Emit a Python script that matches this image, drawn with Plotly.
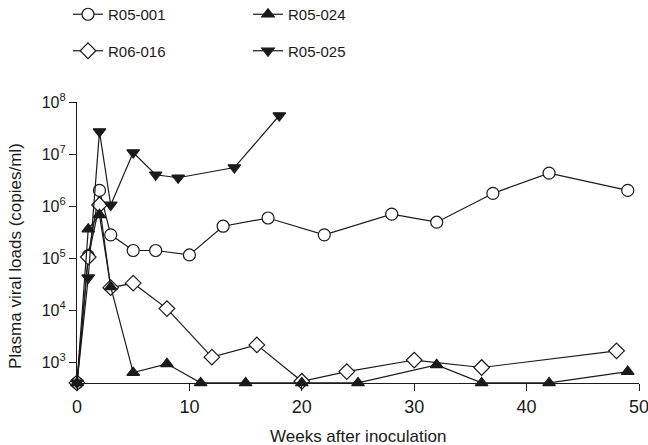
import plotly.graph_objects as go

# Data (weeks after inoculation, plasma viral loads copies/ml)
r05_001_weeks = [0, 1, 2, 3, 5, 7, 10, 13, 17, 22, 28, 32, 37, 42, 49]
r05_001_loads = [400, 1.1e5, 2.0e6, 2.8e5, 1.4e5, 1.4e5, 1.15e5, 4.1e5, 5.9e5, 2.8e5, 7.0e5, 4.9e5, 1.75e6, 4.3e6, 2.0e6]

r06_016_weeks = [0, 1, 2, 3, 5, 8, 12, 16, 20, 24, 30, 36, 48]
r06_016_loads = [400, 1.05e5, 1.05e6, 2.7e4, 3.3e4, 1.07e4, 1.25e3, 2.15e3, 430, 660, 1.1e3, 790, 1.65e3]

r05_024_weeks = [0, 1, 2, 3, 5, 8, 11, 15, 20, 25, 32, 36, 42, 49]
r05_024_loads = [400, 3.6e5, 6.8e5, 2.8e4, 630, 930, 400, 400, 400, 400, 890, 400, 400, 660]

r05_025_weeks = [0, 1, 2, 3, 5, 7, 9, 14, 18]
r05_025_loads = [400, 4.2e4, 2.7e7, 1.05e6, 1.07e7, 4.0e6, 3.5e6, 5.5e6, 5.5e7]

y_tick_vals = [1e3, 1e4, 1e5, 1e6, 1e7, 1e8]
y_tick_text = ["10<sup>3</sup>", "10<sup>4</sup>", "10<sup>5</sup>", "10<sup>6</sup>", "10<sup>7</sup>", "10<sup>8</sup>"]
x_tick_vals = [0, 10, 20, 30, 40, 50]

x_title = "Weeks after inoculation"
y_title = "Plasma viral loads (copies/ml)"

INK = "#1a1a1a"
FONT = "Liberation Sans, Arial, sans-serif"

W, H = 648, 445

fig = go.Figure()

def add(name, x, y, symbol, filled, legend, group):
    fig.add_trace(go.Scatter(
        x=x, y=y, name=name, mode="lines+markers",
        line=dict(color=INK, width=1.2),
        marker=dict(symbol=symbol, size=12 if "triangle" not in symbol else 11,
                    color=INK if filled else "white",
                    line=dict(color=INK, width=1.2)),
        cliponaxis=False, legend=legend, legendgroup=group,
    ))

add("R05-001", r05_001_weeks, r05_001_loads, "circle", False, "legend", "a")
add("R06-016", r06_016_weeks, r06_016_loads, "diamond", False, "legend", "b")
add("R05-024", r05_024_weeks, r05_024_loads, "triangle-up", True, "legend2", "c")
add("R05-025", r05_025_weeks, r05_025_loads, "triangle-down", True, "legend2", "d")

leg_common = dict(
    orientation="v", yanchor="top", xanchor="left",
    font=dict(family=FONT, size=15, color=INK),
    bgcolor="rgba(0,0,0,0)", tracegroupgap=14,
    itemwidth=30,
)

fig.update_layout(
    width=W, height=H,
    margin=dict(l=0, r=0, t=0, b=0, autoexpand=False),
    paper_bgcolor="white", plot_bgcolor="white",
    font=dict(family=FONT, size=15, color=INK),
    showlegend=True,
    legend=dict(x=68 / W, y=1 + 2 / H, **leg_common),
    legend2=dict(x=248 / W, y=1 + 2 / H, **leg_common),
    xaxis=dict(
        domain=[77 / W, 639 / W],
        range=[0, 50], tickvals=x_tick_vals, ticks="outside", ticklen=7,
        tickwidth=1.2, tickcolor=INK, showline=True, linecolor=INK, linewidth=1.2,
        showgrid=False, zeroline=False, tickfont=dict(size=18),
        ticklabeloverflow="allow",
    ),
    yaxis=dict(
        domain=[62 / H, 343 / H],
        type="log", range=[2.6, 8], tickvals=y_tick_vals, ticktext=y_tick_text,
        ticks="outside", ticklen=7, tickwidth=1.2, tickcolor=INK,
        showline=True, linecolor=INK, linewidth=1.2, showgrid=False,
        zeroline=False, tickfont=dict(size=16),
    ),
    annotations=[
        dict(text=x_title, xref="paper", yref="paper", x=358 / W, y=1 - 436 / H,
             xanchor="center", yanchor="middle", showarrow=False,
             font=dict(size=17, family=FONT, color=INK)),
        dict(text=y_title, xref="paper", yref="paper", x=15 / W, y=1 - 256 / H,
             xanchor="center", yanchor="middle", showarrow=False, textangle=-90,
             font=dict(size=17, family=FONT, color=INK)),
    ],
)

fig.write_html(
    "out.html",
    config={"displayModeBar": False},
    post_script="document.body.style.margin='0';document.documentElement.style.overflow='hidden';",
)
